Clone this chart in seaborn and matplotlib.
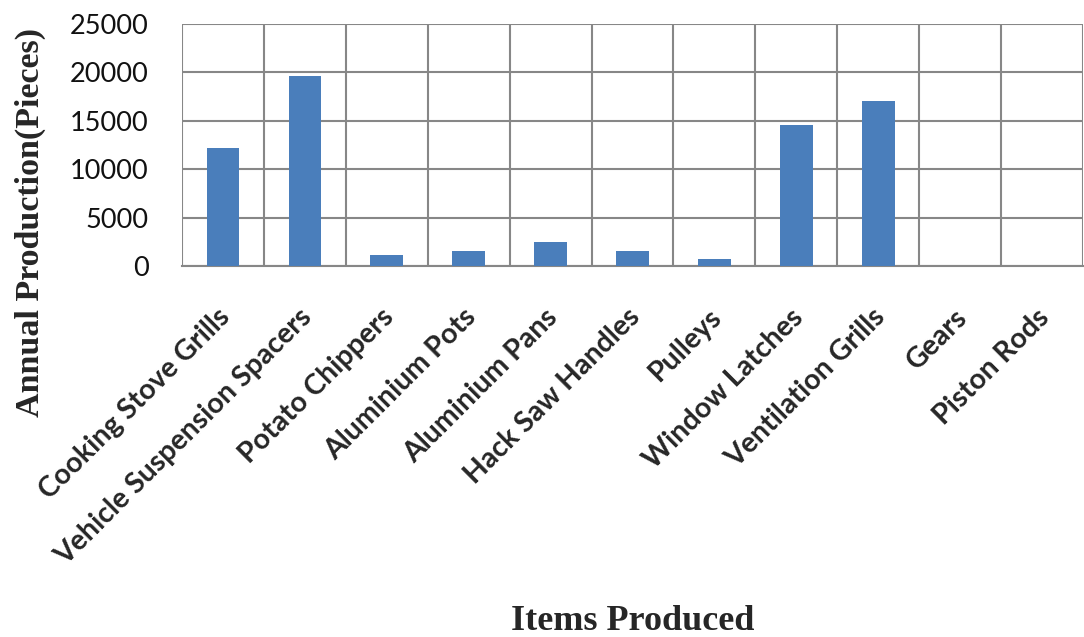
import matplotlib
matplotlib.use("Agg")
import matplotlib.pyplot as plt
import matplotlib.transforms as mtransforms
import seaborn as sns
import pandas as pd

items = ["Cooking Stove Grills", "Vehicle Suspension Spacers", "Potato Chippers",
         "Aluminium Pots", "Aluminium Pans", "Hack Saw Handles", "Pulleys",
         "Window Latches", "Ventilation Grills", "Gears", "Piston Rods"]
production = [12200, 19600, 1100, 1500, 2500, 1500, 700, 14600, 17000, 0, 0]
y_ticks = [0, 5000, 10000, 15000, 20000, 25000]

df = pd.DataFrame({"item": items, "production": production})

sns.set_theme(style="white")
plt.rcParams["font.family"] = ["Lato", "DejaVu Sans"]

fig = plt.figure(figsize=(10.84, 6.37), dpi=100)
ax = fig.add_axes([0.168, 0.5824, 0.831, 0.380])

grid_col = "#878787"
sns.barplot(data=df, x="item", y="production", color="#4a7ebb", width=0.4,
            saturation=1, linewidth=0, ax=ax, zorder=3)

ax.set_xlim(-0.5, len(items) - 0.5)
ax.set_ylim(0, 25000)
ax.set_yticks(y_ticks)
ax.set_yticklabels([str(v) for v in y_ticks], fontsize=19.5)

# category boundaries as vertical grid lines
ax.set_xticks([i - 0.5 for i in range(len(items) + 1)], minor=False)
ax.set_xticklabels([])
ax.set_xticks(range(len(items)), minor=True)
ax.set_xticklabels(items, minor=True, rotation=45, ha="right",
                   rotation_mode="anchor", fontsize=20.5, fontweight="bold")
ax.tick_params(axis="x", which="minor", length=0, pad=0)
ax.tick_params(axis="x", which="major", length=10, width=1.5, color=grid_col,
               direction="out")
ax.tick_params(axis="y", length=11, width=1.5, color=grid_col, direction="out",
               pad=13, labelcolor="#111111")
offset = mtransforms.ScaledTranslation(-0.06, -0.38, fig.dpi_scale_trans)
for lab in ax.get_xticklabels(minor=True):
    lab.set_transform(lab.get_transform() + offset)

ax.grid(True, which="major", axis="both", color=grid_col, linewidth=1.5, zorder=0)
for s in ax.spines.values():
    s.set_visible(False)
ax.spines["bottom"].set_visible(True)
ax.spines["bottom"].set_color(grid_col)
ax.spines["bottom"].set_linewidth(1.5)

ax.set_xlabel("")
ax.set_ylabel("")
fig.text(0.028, 0.651, "Annual Production(Pieces)", rotation=90, ha="center",
         va="center", family="Liberation Serif", fontweight="bold", fontsize=24.5)
fig.text(0.584, 0.025, "Items Produced", ha="center", va="center",
         family="Liberation Serif", fontweight="bold", fontsize=26)

fig.savefig("out.png", dpi=100)
